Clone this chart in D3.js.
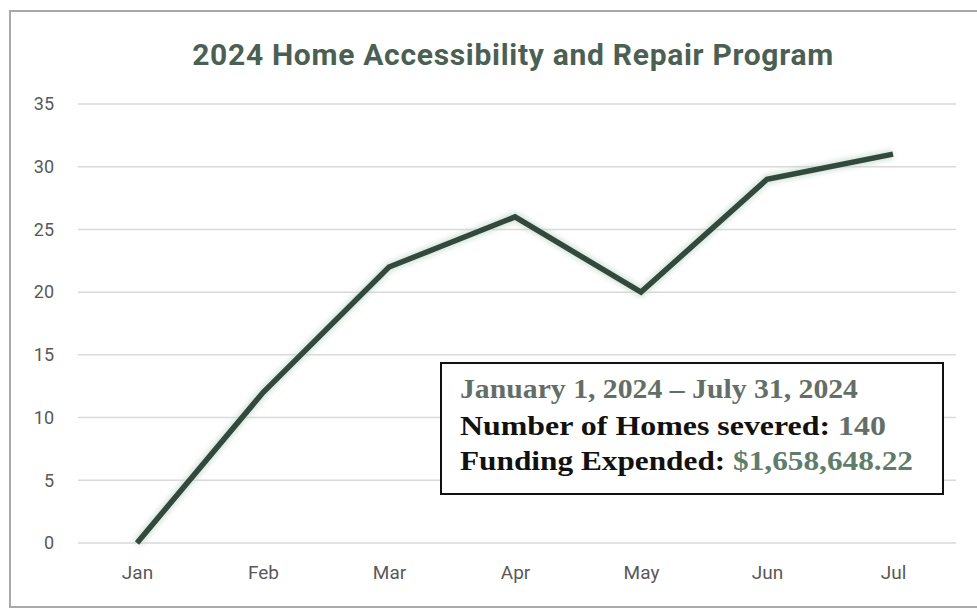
<!DOCTYPE html>
<html>
<head>
<meta charset="utf-8">
<script src="https://cdn.jsdelivr.net/npm/d3@7"></script>
<style>
  html, body { margin: 0; padding: 0; background: #fff; }
  svg { display: block; }
</style>
</head>
<body>
<svg id="chart" width="977" height="609"></svg>
<script>
// Monthly homes served, 2024
const months = ["Jan", "Feb", "Mar", "Apr", "May", "Jun", "Jul"];
const homes = [0, 12, 22, 26, 20, 29, 31];
const yTicks = [0, 5, 10, 15, 20, 25, 30, 35];

const titleText = "2024 Home Accessibility and Repair Program";
const periodText = "January 1, 2024 \u2013 July 31, 2024";
const homesLabel = "Number of Homes severed: ";
const homesTotal = "140";
const fundingLabel = "Funding Expended: ";
const fundingTotal = "$1,658,648.22";

const svg = d3.select("#chart");
const W = 977, H = 609;

// chart frame
svg.append("rect")
  .attr("x", 10).attr("y", 11).attr("width", W - 8).attr("height", H - 13)
  .attr("fill", "#fff").attr("stroke", "#a9a9a9").attr("stroke-width", 2);

const plot = { left: 74, right: 956, top: 104, bottom: 543 };

const x = d3.scalePoint().domain(months).range([plot.left, plot.right]).padding(0.5);
const y = d3.scaleLinear().domain([0, 35]).range([plot.bottom, plot.top]);

// title
svg.append("text")
  .attr("x", 513).attr("y", 65)
  .attr("text-anchor", "middle")
  .attr("font-family", "Roboto, sans-serif")
  .attr("font-weight", "bold")
  .attr("font-size", 30)
  .attr("letter-spacing", 0.7)
  .attr("fill", "#4b5f53")
  .text(titleText);

// horizontal gridlines
svg.append("g")
  .selectAll("line")
  .data(yTicks)
  .join("line")
  .attr("x1", plot.left + 4).attr("x2", plot.right)
  .attr("y1", d => y(d)).attr("y2", d => y(d))
  .attr("stroke", "#d9d9d9").attr("stroke-width", 1.5);

const axisFont = "Roboto, sans-serif";

// y axis labels
const yAxis = svg.append("g")
  .attr("transform", `translate(54,0)`)
  .call(d3.axisLeft(y).tickValues(yTicks).tickSize(0).tickPadding(0));
yAxis.select(".domain").remove();
yAxis.selectAll("text")
  .attr("font-family", axisFont)
  .attr("font-size", 18)
  .attr("fill", "#595959");

// x axis labels
const xAxis = svg.append("g")
  .attr("transform", `translate(0,565)`)
  .call(d3.axisBottom(x).tickSize(0).tickPadding(0));
xAxis.select(".domain").remove();
xAxis.selectAll("text")
  .attr("font-family", axisFont)
  .attr("font-size", 19)
  .attr("fill", "#595959");

// soft glow behind the line
const defs = svg.append("defs");
const f = defs.append("filter").attr("id", "glow")
  .attr("x", "-10%").attr("y", "-10%").attr("width", "120%").attr("height", "120%");
f.append("feGaussianBlur").attr("in", "SourceGraphic").attr("stdDeviation", 2.5);

const line = d3.line()
  .x((d, i) => x(months[i]))
  .y(d => y(d));

svg.append("path")
  .datum(homes)
  .attr("d", line)
  .attr("fill", "none")
  .attr("stroke", "#b9d6c4")
  .attr("stroke-width", 10)
  .attr("opacity", 0.6)
  .attr("filter", "url(#glow)");

svg.append("path")
  .datum(homes)
  .attr("d", line)
  .attr("fill", "none")
  .attr("stroke", "#34493d")
  .attr("stroke-width", 5.5)
  .attr("stroke-linejoin", "miter")
  .attr("stroke-linecap", "butt");

// summary box
const box = svg.append("g");
box.append("rect")
  .attr("x", 441).attr("y", 363).attr("width", 502).attr("height", 131)
  .attr("fill", "#fff").attr("stroke", "#111").attr("stroke-width", 2);

const serif = "'Liberation Serif', 'Times New Roman', serif";

box.append("text")
  .attr("x", 460).attr("y", 398)
  .attr("font-family", serif).attr("font-weight", "bold").attr("font-size", 27)
  .attr("textLength", 398).attr("lengthAdjust", "spacingAndGlyphs")
  .attr("fill", "#646e68")
  .text(periodText);

const t2 = box.append("text")
  .attr("x", 460).attr("y", 435)
  .attr("font-family", serif).attr("font-weight", "bold").attr("font-size", 27)
  .attr("textLength", 426).attr("lengthAdjust", "spacingAndGlyphs");
t2.append("tspan").attr("fill", "#111").text(homesLabel);
t2.append("tspan").attr("fill", "#646e68").text(homesTotal);

const t3 = box.append("text")
  .attr("x", 460).attr("y", 470)
  .attr("font-family", serif).attr("font-weight", "bold").attr("font-size", 27)
  .attr("textLength", 453).attr("lengthAdjust", "spacingAndGlyphs");
t3.append("tspan").attr("fill", "#111").text(fundingLabel);
t3.append("tspan").attr("fill", "#5f7d6c").text(fundingTotal);
</script>
</body>
</html>
